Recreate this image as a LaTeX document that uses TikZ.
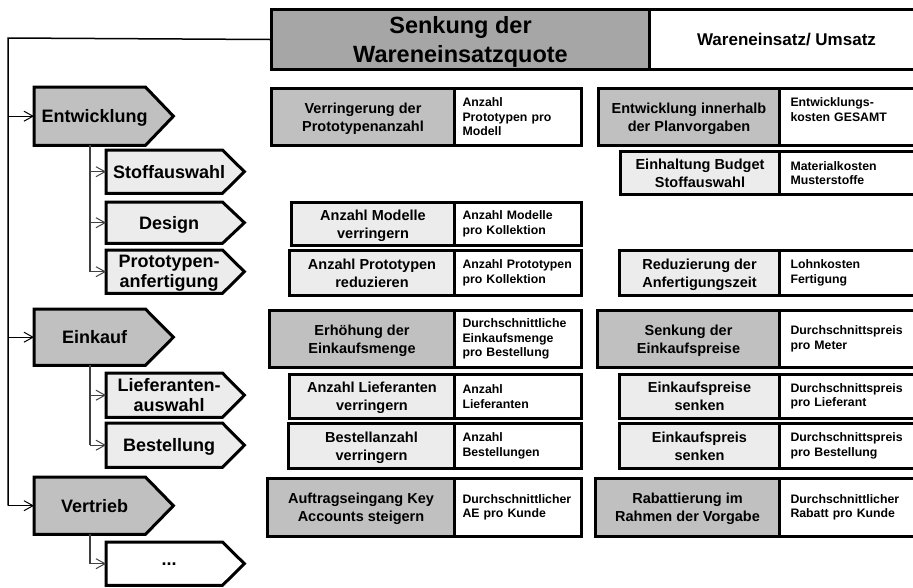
\documentclass[tikz,border=0pt]{standalone}
\usepackage{fontspec}
\setmainfont{Liberation Sans}
\usetikzlibrary{arrows.meta,backgrounds,calc}
\definecolor{dgray}{HTML}{C0C0C0}
\definecolor{tgray}{HTML}{A6A6A6}
\definecolor{lgray}{HTML}{ECECEC}
\tikzset{
  body/.style={rectangle, inner sep=0pt, anchor=north west, align=center, text depth=0pt,
    font=\fontsize{18}{20}\selectfont\bfseries},
  pentline/.style={draw=black, line width=3pt, line join=miter},
  gbox/.style={draw, line width=3pt, rectangle, inner sep=0pt, anchor=north west,
    align=center, text depth=0pt, font=\fontsize{14.5}{18}\selectfont\bfseries},
  wbox/.style={draw, line width=3pt, fill=white, rectangle, inner ysep=0pt,
    anchor=north west, align=left, font=\fontsize{12.3}{14.5}\selectfont\bfseries},
  mwbox/.style={wbox, minimum width=127pt, text width=111pt, inner xsep=8pt},
  rwbox/.style={wbox, minimum width=150pt, text width=128pt, inner xsep=11pt},
  trunkline/.style={line width=1.5pt, black},
  subline/.style={line width=1.1pt, black!75},
  conn/.style={line width=1.3pt, -{Straight Barb[length=9pt,width=10pt,line width=1pt]}},
  subconn/.style={line width=1.1pt, black!75, -{Straight Barb[length=9pt,width=10pt,line width=1pt]}},
}
\newcommand\pentshape[3]{%
  \begin{scope}[on background layer]
    \path[pentline, fill=#3] (#1.north west) -- ([xshift=-10pt]#1.north east)
      -- ([xshift=#2-10pt]#1.east) -- ([xshift=-10pt]#1.south east)
      -- (#1.south west) -- cycle;
  \end{scope}}
\begin{document}
\begin{tikzpicture}[x=1pt, y=-1pt]
\useasboundingbox (0,0) rectangle (913,587);

% ---- title ----
\begin{scope}
\clip (0,0) rectangle (913,587);
\node[gbox, fill=tgray, minimum width=378pt, minimum height=60pt,
  font=\fontsize{23.5}{29}\selectfont\bfseries] (title) at (270,8)
  {Senkung der\\Wareneinsatzquote};
\node[gbox, fill=white, minimum width=274pt, minimum height=60pt,
  font=\fontsize{17}{20}\selectfont\bfseries] (ratio) at (648,8)
  {Wareneinsatz/ Umsatz};

% ---- right column ----
\node[gbox, fill=dgray, minimum width=181pt, minimum height=57pt] (r1) at (597,87)
  {Entwicklung innerhalb\\der Planvorgaben};
\node[rwbox, minimum height=57pt] (r1k) at (778,87) {Entwicklungs-\\kosten GESAMT\\[0pt]\mbox{}};
\node[gbox, fill=lgray, minimum width=159pt, minimum height=43pt] (r2) at (619,150)
  {Einhaltung Budget\\Stoffauswahl};
\node[rwbox, minimum height=43pt] (r2k) at (778,150) {Materialkosten\\Musterstoffe};
\node[gbox, fill=lgray, minimum width=160pt, minimum height=45pt] (r4) at (618,249)
  {Reduzierung der\\Anfertigungszeit};
\node[rwbox, minimum height=45pt] (r4k) at (778,249) {Lohnkosten\\Fertigung};
\node[gbox, fill=dgray, minimum width=182pt, minimum height=57pt] (r5) at (596,309)
  {Senkung der\\Einkaufspreise};
\node[rwbox, minimum height=57pt] (r5k) at (778,309) {Durchschnittspreis\\pro Meter};
\node[gbox, fill=lgray, minimum width=160pt, minimum height=44pt] (r6) at (618,373)
  {Einkaufspreise\\senken};
\node[rwbox, minimum height=44pt] (r6k) at (778,373) {Durchschnittspreis\\pro Lieferant};
\node[gbox, fill=lgray, minimum width=160pt, minimum height=45pt] (r7) at (618,422)
  {Einkaufspreis\\senken};
\node[rwbox, minimum height=45pt] (r7k) at (778,422) {Durchschnittspreis\\pro Bestellung};
\node[gbox, fill=dgray, minimum width=184pt, minimum height=58pt] (r8) at (594,477)
  {Rabattierung im\\Rahmen der Vorgabe};
\node[rwbox, minimum height=58pt] (r8k) at (778,477) {Durchschnittlicher\\Rabatt pro Kunde};
\end{scope}

% ---- middle column ----
\node[gbox, fill=dgray, minimum width=183pt, minimum height=57pt] (m1) at (270,87)
  {Verringerung der\\Prototypenanzahl};
\node[mwbox, minimum height=57pt] (m1k) at (453,87) {Anzahl\\Prototypen pro\\Modell};
\node[gbox, fill=lgray, minimum width=163pt, minimum height=43pt] (m3) at (290,201)
  {Anzahl Modelle\\verringern};
\node[mwbox, minimum height=43pt] (m3k) at (453,201) {Anzahl Modelle\\pro Kollektion};
\node[gbox, fill=lgray, minimum width=165pt, minimum height=45pt] (m4) at (288,249)
  {Anzahl Prototypen\\reduzieren};
\node[mwbox, minimum height=45pt] (m4k) at (453,249) {Anzahl Prototypen\\pro Kollektion};
\node[gbox, fill=dgray, minimum width=185pt, minimum height=57pt] (m5) at (268,309)
  {Erhöhung der\\Einkaufsmenge};
\node[mwbox, minimum height=57pt] (m5k) at (453,309) {Durchschnittliche\\Einkaufsmenge\\pro Bestellung};
\node[gbox, fill=lgray, minimum width=165pt, minimum height=44pt] (m6) at (288,373)
  {Anzahl Lieferanten\\verringern};
\node[mwbox, minimum height=44pt] (m6k) at (453,373) {Anzahl\\Lieferanten};
\node[gbox, fill=lgray, minimum width=166pt, minimum height=45pt] (m7) at (287,422)
  {Bestellanzahl\\verringern};
\node[mwbox, minimum height=45pt] (m7k) at (453,422) {Anzahl\\Bestellungen};
\node[gbox, fill=dgray, minimum width=187pt, minimum height=58pt] (m8) at (266,477)
  {Auftragseingang Key\\Accounts steigern};
\node[mwbox, minimum height=58pt] (m8k) at (453,477) {Durchschnittlicher\\AE pro Kunde};

% ---- left process arrows ----
\node[body, minimum width=121pt, minimum height=58pt] (ent) at (34,87) {Entwicklung};
\pentshape{ent}{28pt}{dgray}
\node[body, minimum width=126pt, minimum height=43pt] (stoff) at (106,150) {Stoffauswahl};
\pentshape{stoff}{22pt}{lgray}
\node[body, minimum width=126pt, minimum height=41pt] (design) at (106,202) {Design};
\pentshape{design}{22pt}{lgray}
\node[body, minimum width=126pt, minimum height=43pt] (proto) at (106,250) {Prototypen-\\anfertigung};
\pentshape{proto}{22pt}{lgray}
\node[body, minimum width=121pt, minimum height=56pt] (eink) at (34,309) {Einkauf};
\pentshape{eink}{28pt}{dgray}
\node[body, minimum width=126pt, minimum height=44pt] (lief) at (106,373) {Lieferanten-\\auswahl};
\pentshape{lief}{22pt}{lgray}
\node[body, minimum width=126pt, minimum height=44pt] (best) at (106,423) {Bestellung};
\pentshape{best}{22pt}{lgray}
\node[body, minimum width=121pt, minimum height=57pt] (vert) at (34,477) {Vertrieb};
\pentshape{vert}{28pt}{dgray}
\node[body, minimum width=126pt, minimum height=43pt] (dots) at (106,542) {...};
\pentshape{dots}{22pt}{white}

% ---- connectors ----
\coordinate (trunk) at (8,38);
\coordinate (sub) at (90,0);
\draw[trunkline] (title.west) -- (trunk) -- (trunk |- vert.west);
\draw[conn] (trunk |- ent.west) -- (ent.west);
\draw[conn] (trunk |- eink.west) -- (eink.west);
\draw[conn] (trunk |- vert.west) -- (vert.west);

\draw[subline] (sub |- ent.south) -- (sub |- proto.west);
\draw[subconn] (sub |- stoff.west) -- (stoff.west);
\draw[subconn] (sub |- design.west) -- (design.west);
\draw[subconn] (sub |- proto.west) -- (proto.west);

\draw[subline] (sub |- eink.south) -- (sub |- best.west);
\draw[subconn] (sub |- lief.west) -- (lief.west);
\draw[subconn] (sub |- best.west) -- (best.west);

\draw[subline] (sub |- vert.south) -- (sub |- dots.west);
\draw[subconn] (sub |- dots.west) -- (dots.west);
\end{tikzpicture}
\end{document}
